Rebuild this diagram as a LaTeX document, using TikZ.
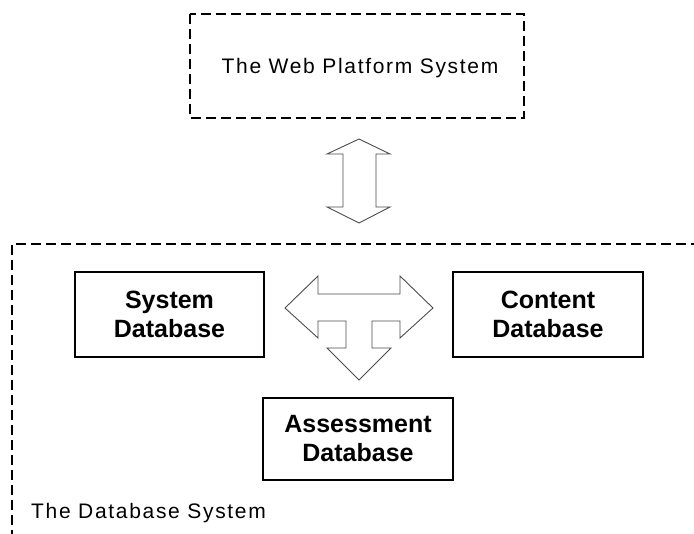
\documentclass[tikz,border=0pt]{standalone}
\usepackage{fontspec}
\setmainfont{Liberation Sans}
\newfontfamily\spacedfont[LetterSpace=8]{Liberation Sans}
\begin{document}
\begin{tikzpicture}[x=1pt,y=-1pt,
  dbbox/.style={draw=black,line width=1.7pt,inner sep=0pt,
    font=\fontsize{25}{29}\selectfont\bfseries,align=center},
  sysframe/.style={draw=black,line width=1.3pt,dash pattern=on 10pt off 5pt},
  plain/.style={font=\spacedfont\fontsize{21}{25}\selectfont,inner sep=0pt},
  hollowarrow/.style={draw=black!70,line width=0.9pt,line join=miter,fill=white}]
  \useasboundingbox (0,0) rectangle (694,534);

  % web platform frame
  \draw[sysframe] (190,14) rectangle (524,118);
  \node[plain] (web) at (360,68) {The Web Platform System};

  % database system frame (open to the right and below)
  \draw[sysframe] (12,540) -- (12,244) -- (700,244);
  \node[plain,anchor=west] (dbsys) at (31,513) {The Database System};

  % double-headed vertical arrow between the two systems
  \draw[hollowarrow] (359,139) -- (390,154) -- (376,154) -- (376,207)
    -- (390,207) -- (359,223) -- (327,207) -- (343,207) -- (343,154)
    -- (327,154) -- cycle;

  % three-way arrow between the databases
  \draw[hollowarrow] (285,308) -- (318,276) -- (318,294) -- (400,294)
    -- (400,276) -- (433,308) -- (400,338) -- (400,321) -- (372,321)
    -- (372,348) -- (391,348) -- (359,380) -- (327,348) -- (346,348)
    -- (346,321) -- (318,321) -- (318,338) -- cycle;

  % databases
  \node[dbbox,minimum width=189pt,minimum height=85pt] (sysdb) at (169.5,314.5)
    {System\\Database};
  \node[dbbox,minimum width=190pt,minimum height=85pt] (contdb) at (548,314.5)
    {Content\\Database};
  \node[dbbox,minimum width=190pt,minimum height=82pt] (assdb) at (358,439)
    {Assessment\\Database};
\end{tikzpicture}
\end{document}
